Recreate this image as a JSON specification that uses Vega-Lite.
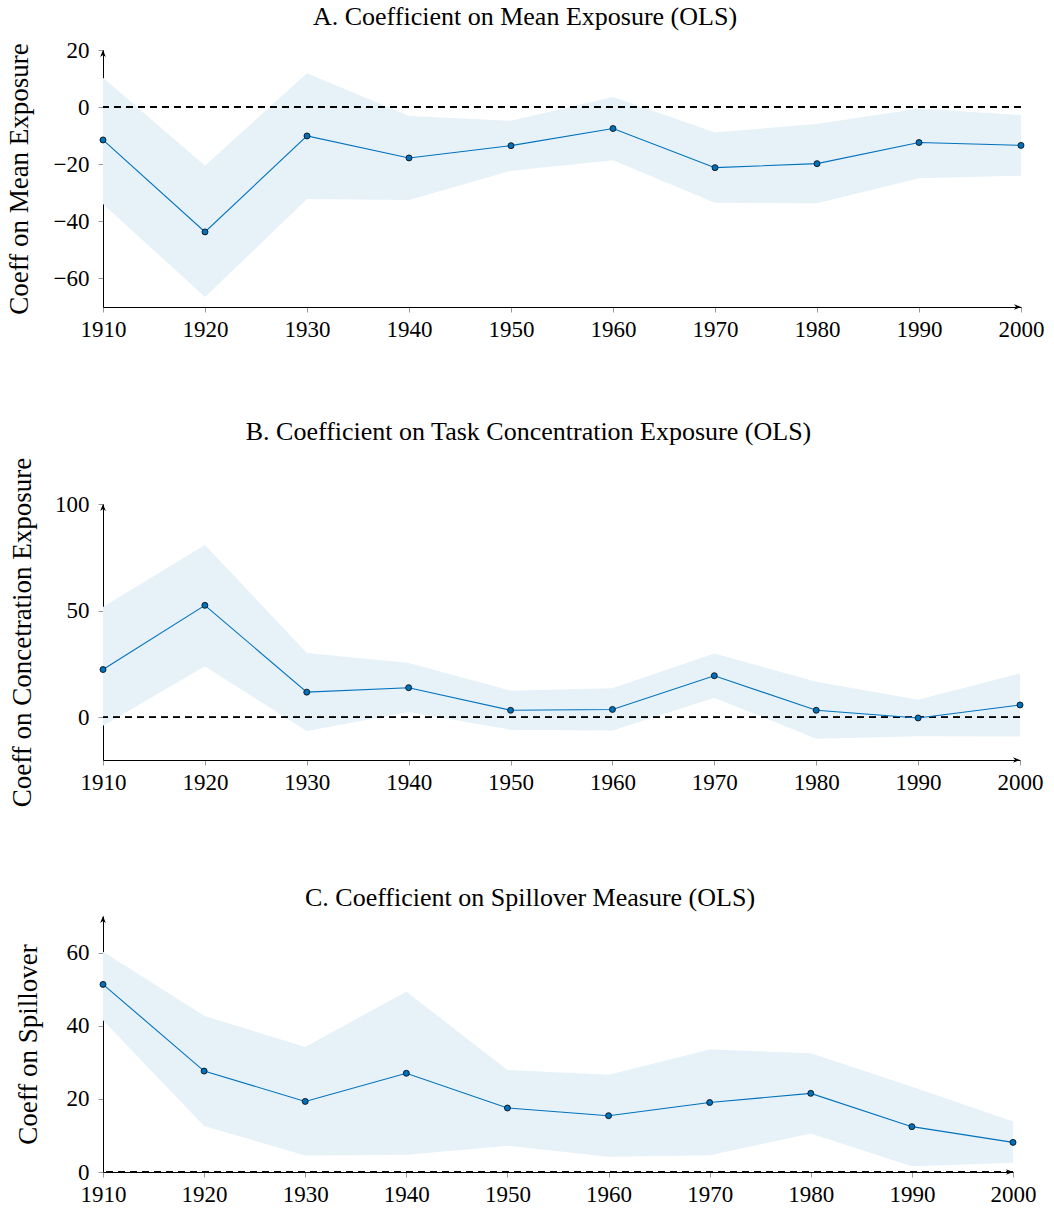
{
  "$schema": "https://vega.github.io/schema/vega-lite/v6.json",
  "background": "white",
  "padding": {"left": 5, "top": 4, "right": 5, "bottom": 5},
  "spacing": 78,
  "config": {
    "font": "Liberation Serif",
    "view": {"stroke": null},
    "axis": {
      "grid": false,
      "labelFont": "Liberation Serif",
      "labelFontSize": 23,
      "labelColor": "black",
      "titleFont": "Liberation Serif",
      "titleFontSize": 27,
      "titleFontWeight": "normal",
      "titleColor": "black",
      "domainColor": "black",
      "domainWidth": 1,
      "tickColor": "#999999",
      "tickSize": 5,
      "tickWidth": 1,
      "zindex": 1
    },
    "title": {
      "font": "Liberation Serif",
      "fontSize": 26,
      "fontWeight": "normal",
      "color": "black",
      "anchor": "middle",
      "frame": "group"
    }
  },
  "datasets": {
    "mean": [
      {"year": 1910, "coef": -11.5, "lo": -33.9, "hi": 10.3},
      {"year": 1920, "coef": -43.7, "lo": -66.5, "hi": -20.5},
      {"year": 1930, "coef": -10.1, "lo": -32.2, "hi": 11.9},
      {"year": 1940, "coef": -17.8, "lo": -32.5, "hi": -3.1},
      {"year": 1950, "coef": -13.5, "lo": -22.3, "hi": -4.8},
      {"year": 1960, "coef": -7.5, "lo": -18.6, "hi": 3.5},
      {"year": 1970, "coef": -21.2, "lo": -33.5, "hi": -8.9},
      {"year": 1980, "coef": -19.8, "lo": -33.7, "hi": -5.9},
      {"year": 1990, "coef": -12.4, "lo": -24.9, "hi": -0.5},
      {"year": 2000, "coef": -13.4, "lo": -24.0, "hi": -2.8}
    ],
    "conc": [
      {"year": 1910, "coef": 22.4, "lo": -4.0, "hi": 51.7},
      {"year": 1920, "coef": 52.5, "lo": 24.0, "hi": 80.8},
      {"year": 1930, "coef": 11.8, "lo": -6.4, "hi": 30.2},
      {"year": 1940, "coef": 13.9, "lo": 2.5, "hi": 25.5},
      {"year": 1950, "coef": 3.3, "lo": -5.8, "hi": 12.5},
      {"year": 1960, "coef": 3.7, "lo": -6.2, "hi": 13.6},
      {"year": 1970, "coef": 19.5, "lo": 9.2, "hi": 29.9},
      {"year": 1980, "coef": 3.3, "lo": -10.0, "hi": 16.7},
      {"year": 1990, "coef": -0.3, "lo": -8.9, "hi": 8.3},
      {"year": 2000, "coef": 5.8, "lo": -9.0, "hi": 20.6}
    ],
    "spill": [
      {"year": 1910, "coef": 51.3, "lo": 41.5, "hi": 60.2},
      {"year": 1920, "coef": 27.6, "lo": 12.6, "hi": 42.7},
      {"year": 1930, "coef": 19.3, "lo": 4.5, "hi": 34.2},
      {"year": 1940, "coef": 27.0, "lo": 4.7, "hi": 49.3},
      {"year": 1950, "coef": 17.5, "lo": 7.2, "hi": 27.9},
      {"year": 1960, "coef": 15.4, "lo": 4.2, "hi": 26.6},
      {"year": 1970, "coef": 19.0, "lo": 4.6, "hi": 33.5},
      {"year": 1980, "coef": 21.5, "lo": 10.5, "hi": 32.5},
      {"year": 1990, "coef": 12.4, "lo": 1.6, "hi": 23.3},
      {"year": 2000, "coef": 8.1, "lo": 2.5, "hi": 13.8}
    ]
  },
  "vconcat": [
    {
      "width": 918,
      "height": 257,
      "title": {"text": "A. Coefficient on Mean Exposure (OLS)", "offset": 9, "dx": -37},
      "data": {"name": "mean"},
      "layer": [
        {
          "mark": {"type": "area", "color": "#e6f1f8", "opacity": 1},
          "encoding": {
            "x": {"field": "year", "type": "quantitative", "scale": {"domain": [1910, 2000], "nice": false, "zero": false},
                  "axis": {"values": [1910, 1920, 1930, 1940, 1950, 1960, 1970, 1980, 1990, 2000], "format": "d", "title": null, "labelFlush": false, "labelPadding": 6}},
            "y": {"field": "lo", "type": "quantitative", "scale": {"domain": [-70, 20], "nice": false, "zero": false},
                  "axis": {"values": [-60, -40, -20, 0, 20], "title": "Coeff on Mean Exposure", "labelPadding": 9, "titlePadding": 20}},
            "y2": {"field": "hi"}
          }
        },
        {
          "mark": {"type": "rule", "color": "black", "strokeDash": [7, 5], "strokeWidth": 1},
          "encoding": {"y": {"datum": 0}}
        },
        {
          "mark": {"type": "line", "color": "#0072BD", "strokeWidth": 1.1},
          "encoding": {"x": {"field": "year", "type": "quantitative"}, "y": {"field": "coef", "type": "quantitative"}}
        },
        {
          "mark": {"type": "point", "filled": true, "fill": "#0072BD", "stroke": "black", "strokeWidth": 0.8, "size": 36, "opacity": 1},
          "encoding": {"x": {"field": "year", "type": "quantitative"}, "y": {"field": "coef", "type": "quantitative"}}
        },
        {
          "data": {"values": [{}]},
          "mark": {"type": "point", "shape": "M-2,-0.8L0,0L-2,0.8L-1.4,0Z", "filled": true, "color": "black", "size": 49, "opacity": 1},
          "encoding": {"x": {"datum": 2000}, "y": {"datum": -70}}
        },
        {
          "data": {"values": [{}]},
          "mark": {"type": "point", "shape": "M-0.8,2L0,0L0.8,2L0,1.4Z", "filled": true, "color": "black", "size": 49, "opacity": 1},
          "encoding": {"x": {"datum": 1910}, "y": {"datum": 20}}
        }
      ]
    },
    {
      "width": 917,
      "height": 256,
      "title": {"text": "B. Coefficient on Task Concentration Exposure (OLS)", "offset": 12, "dx": -33},
      "data": {"name": "conc"},
      "layer": [
        {
          "mark": {"type": "area", "color": "#e6f1f8", "opacity": 1},
          "encoding": {
            "x": {"field": "year", "type": "quantitative", "scale": {"domain": [1910, 2000], "nice": false, "zero": false},
                  "axis": {"values": [1910, 1920, 1930, 1940, 1950, 1960, 1970, 1980, 1990, 2000], "format": "d", "title": null, "labelFlush": false, "labelPadding": 6}},
            "y": {"field": "lo", "type": "quantitative", "scale": {"domain": [-20, 100], "nice": false, "zero": false},
                  "axis": {"values": [0, 50, 100], "title": "Coeff on Concetration Exposure", "labelPadding": 9, "titlePadding": 18}},
            "y2": {"field": "hi"}
          }
        },
        {
          "mark": {"type": "rule", "color": "black", "strokeDash": [7, 5], "strokeWidth": 1},
          "encoding": {"y": {"datum": 0}}
        },
        {
          "mark": {"type": "line", "color": "#0072BD", "strokeWidth": 1.1},
          "encoding": {"x": {"field": "year", "type": "quantitative"}, "y": {"field": "coef", "type": "quantitative"}}
        },
        {
          "mark": {"type": "point", "filled": true, "fill": "#0072BD", "stroke": "black", "strokeWidth": 0.8, "size": 36, "opacity": 1},
          "encoding": {"x": {"field": "year", "type": "quantitative"}, "y": {"field": "coef", "type": "quantitative"}}
        },
        {
          "data": {"values": [{}]},
          "mark": {"type": "point", "shape": "M-2,-0.8L0,0L-2,0.8L-1.4,0Z", "filled": true, "color": "black", "size": 49, "opacity": 1},
          "encoding": {"x": {"datum": 2000}, "y": {"datum": -20}}
        },
        {
          "data": {"values": [{}]},
          "mark": {"type": "point", "shape": "M-0.8,2L0,0L0.8,2L0,1.4Z", "filled": true, "color": "black", "size": 49, "opacity": 1},
          "encoding": {"x": {"datum": 1910}, "y": {"datum": 100}}
        }
      ]
    },
    {
      "width": 910,
      "height": 256,
      "title": {"text": "C. Coefficient on Spillover Measure (OLS)", "offset": 5, "dx": -28},
      "data": {"name": "spill"},
      "layer": [
        {
          "mark": {"type": "area", "color": "#e6f1f8", "opacity": 1},
          "encoding": {
            "x": {"field": "year", "type": "quantitative", "scale": {"domain": [1910, 2000], "nice": false, "zero": false},
                  "axis": {"values": [1910, 1920, 1930, 1940, 1950, 1960, 1970, 1980, 1990, 2000], "format": "d", "title": null, "labelFlush": false, "labelPadding": 6}},
            "y": {"field": "lo", "type": "quantitative", "scale": {"domain": [0, 70], "nice": false, "zero": false},
                  "axis": {"values": [0, 20, 40, 60], "title": "Coeff on Spillover", "labelPadding": 9, "titlePadding": 24}},
            "y2": {"field": "hi"}
          }
        },
        {
          "mark": {"type": "rule", "color": "black", "strokeDash": [7, 5], "strokeWidth": 1},
          "encoding": {"y": {"datum": 0}}
        },
        {
          "mark": {"type": "line", "color": "#0072BD", "strokeWidth": 1.1},
          "encoding": {"x": {"field": "year", "type": "quantitative"}, "y": {"field": "coef", "type": "quantitative"}}
        },
        {
          "mark": {"type": "point", "filled": true, "fill": "#0072BD", "stroke": "black", "strokeWidth": 0.8, "size": 36, "opacity": 1},
          "encoding": {"x": {"field": "year", "type": "quantitative"}, "y": {"field": "coef", "type": "quantitative"}}
        },
        {
          "data": {"values": [{}]},
          "mark": {"type": "point", "shape": "M-2,-0.8L0,0L-2,0.8L-1.4,0Z", "filled": true, "color": "black", "size": 49, "opacity": 1},
          "encoding": {"x": {"datum": 2000}, "y": {"datum": 0}}
        },
        {
          "data": {"values": [{}]},
          "mark": {"type": "point", "shape": "M-0.8,2L0,0L0.8,2L0,1.4Z", "filled": true, "color": "black", "size": 49, "opacity": 1},
          "encoding": {"x": {"datum": 1910}, "y": {"datum": 70}}
        }
      ]
    }
  ]
}
